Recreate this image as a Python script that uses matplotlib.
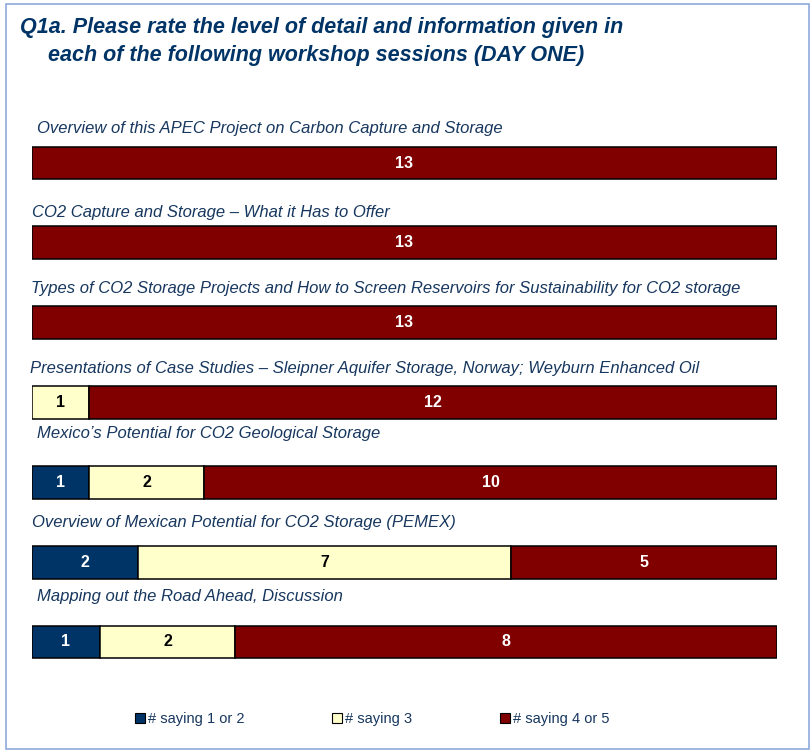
import matplotlib
matplotlib.use("Agg")
import matplotlib.pyplot as plt
from matplotlib.patches import Rectangle, Patch
import numpy as np

sessions = [
    "Overview of this APEC Project on Carbon Capture and Storage",
    "CO2 Capture and Storage \u2013 What it Has to Offer",
    "Types of CO2 Storage Projects and How to Screen Reservoirs for Sustainability for CO2 storage",
    "Presentations of Case Studies \u2013 Sleipner Aquifer Storage, Norway; Weyburn Enhanced Oil",
    "Mexico\u2019s Potential for CO2 Geological Storage",
    "Overview of Mexican Potential for CO2 Storage (PEMEX)",
    "Mapping out the Road Ahead, Discussion",
]
saying_1_2 = [0, 0, 0, 0, 1, 2, 1]
saying_3 = [0, 0, 0, 1, 2, 7, 2]
saying_4_5 = [13, 13, 13, 12, 10, 5, 8]
series_names = ["# saying 1 or 2", "# saying 3", "# saying 4 or 5"]
colors = ["#003366", "#FFFFCC", "#800000"]
text_colors = ["white", "black", "white"]

title_lines = ["Q1a. Please rate the level of detail and information given in",
               "each of the following workshop sessions (DAY ONE)"]

W, H = 811, 753
fig = plt.figure(figsize=(W / 100, H / 100), dpi=100)
fig.patch.set_facecolor("white")

font = ["Liberation Sans", "DejaVu Sans"]
label_color = "#17375E"

# border
fig.add_artist(Rectangle((6 / W, 1 - 749 / H), 803 / W, 745 / H,
                         transform=fig.transFigure, fill=False,
                         edgecolor="#8EAADB", linewidth=1.2))

# axes: rows centred at pixel 163 + 79.83*i
row_gap = 79.83
top_px = 163 - 0.5 * row_gap
bot_px = 642 + 0.5 * row_gap
ax = fig.add_axes([32 / W, 1 - bot_px / H, 745 / W, (bot_px - top_px) / H])
ax.set_xlim(0, 1)
ax.set_ylim(len(sessions) - 0.5, -0.5)
ax.axis("off")

data = np.array([saying_1_2, saying_3, saying_4_5], dtype=float)
totals = data.sum(axis=0)
y = np.arange(len(sessions))
left = np.zeros(len(sessions))
for k in range(3):
    frac = data[k] / totals
    ax.barh(y, frac, left=left, height=0.41, color=colors[k],
            edgecolor="black", linewidth=1.1, label=series_names[k])
    for i in range(len(sessions)):
        if data[k, i] > 0:
            ax.text(left[i] + frac[i] / 2, y[i], f"{int(data[k, i])}",
                    ha="center", va="center", color=text_colors[k],
                    fontsize=11.5, fontweight="bold", family=font)
    left += frac

# session labels
label_y_px = [129, 212, 288, 368, 433, 522, 597]
label_x_px = [37, 32, 31, 30, 37, 32, 37]
for s, lx, ly in zip(sessions, label_x_px, label_y_px):
    fig.text(lx / W, 1 - ly / H, s, ha="left", va="center",
             fontsize=12, style="italic", color=label_color, family=font)

for line, tx, ty in zip(title_lines, [20, 48], [28, 55]):
    fig.text(tx / W, 1 - ty / H, line, ha="left", va="center",
             fontsize=15.5, fontweight="bold", style="italic",
             color="#003366", family=font)

handles = [Patch(facecolor=c, edgecolor="black", linewidth=0.8) for c in colors]
fig.legend(handles, series_names, loc="center", ncol=3,
           bbox_to_anchor=(372 / W, 1 - 719 / H), frameon=False,
           handlelength=0.7, handleheight=0.7, handletextpad=0.2,
           columnspacing=6.0, prop={"family": font, "size": 10.5},
           labelcolor=label_color)

fig.savefig("out.png", dpi=100)
